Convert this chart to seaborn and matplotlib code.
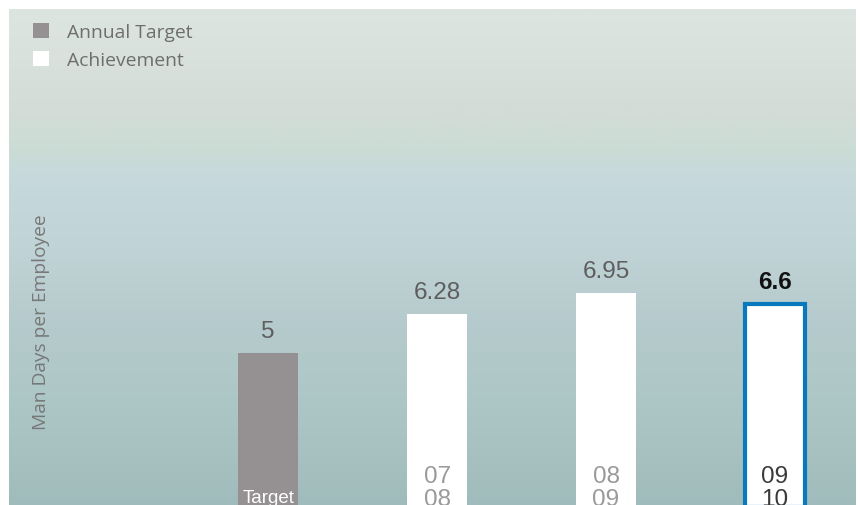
import numpy as np
import seaborn as sns
import matplotlib.pyplot as plt
from matplotlib.patches import Patch
from matplotlib.colors import LinearSegmentedColormap

# data
categories = ["Target", "07\n08", "08\n09", "09\n10"]
values = [5, 6.28, 6.95, 6.6]
value_labels = ["5", "6.28", "6.95", "6.6"]
legend_labels = ["Annual Target", "Achievement"]

bar_colors = ["#959193", "#ffffff", "#ffffff", "#ffffff"]
cat_colors = ["#ffffff", "#9a9a9a", "#9a9a9a", "#3a3a3a"]

sns.set_style("white")
plt.rcParams['font.family'] = ['Liberation Sans', 'DejaVu Sans']

fig = plt.figure(figsize=(8.6, 5.06), dpi=100, facecolor="white")
# panel from x=9..856 px, y=10 px from top down past the bottom edge
ax = fig.add_axes([9/860, -2/506, (856-9)/860, (506-10+2)/506])

# soft gradient background
bg = LinearSegmentedColormap.from_list("bg", [
    (0.00, "#dde5e1"), (0.10, "#d9e1dd"), (0.20, "#d4dcd8"),
    (0.28, "#cbdcd5"), (0.33, "#c7d9dc"), (0.48, "#c0d3d6"),
    (0.64, "#b5cacc"), (0.78, "#adc7c6"), (0.90, "#a7c1c1"), (1.00, "#a0bbbb")])
grad = np.linspace(0, 1, 256).reshape(-1, 1)
ax.imshow(grad, cmap=bg, aspect="auto", extent=[0, 1, 0, 1],
          transform=ax.transAxes, zorder=0)

sns.barplot(x=categories, y=values, hue=categories, palette=bar_colors,
            width=0.355, legend=False, ax=ax, zorder=2, saturation=1,
            linewidth=0)

# blue frame on the current year
last = ax.patches[-1]
last.set_edgecolor("#0a78bc")
last.set_linewidth(3)

ax.set_xlim(-1.533, 3.479)
ax.set_ylim(0, 16.2)
ax.set_xticks([])
ax.set_yticks([])
for s in ax.spines.values():
    s.set_visible(False)

for i, (v, lab) in enumerate(zip(values, value_labels)):
    bold = i == len(values) - 1
    ax.annotate(lab, (i, v), xytext=(0, 8), textcoords="offset points",
                ha="center", va="bottom", fontsize=17.5,
                color="#111111" if bold else "#5e5e5e",
                fontweight="bold" if bold else "normal", zorder=4)

for i, lab in enumerate(categories):
    if i == 0:
        ax.text(i, 0.58, lab, ha="center", va="top", fontsize=13.5,
                color=cat_colors[i], zorder=4)
    else:
        ax.text(i, 1.36, lab, ha="center", va="top", fontsize=17.5,
                color=cat_colors[i], linespacing=1.05, zorder=4)

fig.text(41/860, 1 - 322/506, "Man Days per Employee", rotation=90,
         ha="center", va="center", fontsize=13.8, color="#777777",
         family="Open Sans")

handles = [Patch(facecolor=bar_colors[0], edgecolor="none"),
           Patch(facecolor="#ffffff", edgecolor="none")]
leg = fig.legend(handles, legend_labels, loc="upper left",
                 bbox_to_anchor=(33/860, 1 - 24/506), frameon=False,
                 prop={"family": "Open Sans", "size": 13.9},
                 labelcolor="#6e6e6e", handlelength=0.85, handleheight=0.85,
                 handletextpad=0.9, labelspacing=0.5, borderpad=0,
                 borderaxespad=0)

fig.savefig("out.png", dpi=100, facecolor="white")
